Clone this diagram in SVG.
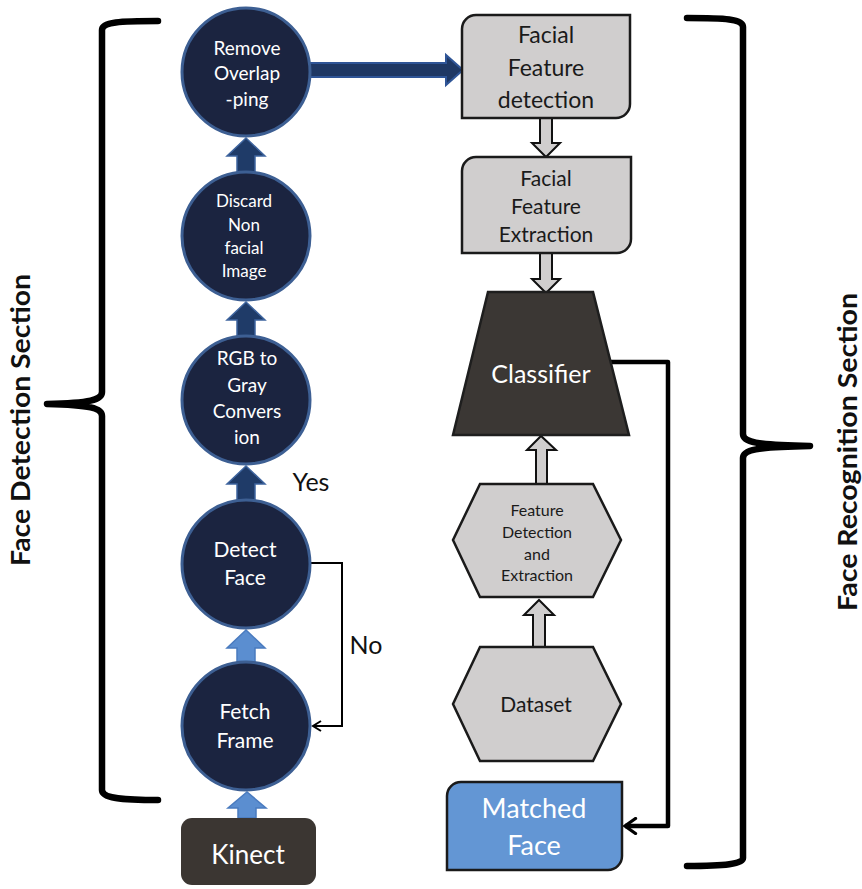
<svg xmlns="http://www.w3.org/2000/svg" width="862" height="889" viewBox="0 0 862 889">
  <defs>
    <style>
      text { font-family: Lato, "Noto Sans", "Liberation Sans", sans-serif; text-anchor: middle; }
      .circ { fill: #1b2440; stroke: #3d5f93; stroke-width: 3; }
      .ctxt { fill: #ffffff; font-size: 19px; }
      .ctxt-lg { fill: #ffffff; font-size: 21px; }
      .dark-arrow { fill: #1f3b68; stroke: #3e649e; stroke-width: 1.5; }
      .light-arrow { fill: #5b8ed0; stroke: #4a7bbf; stroke-width: 1.5; }
      .gray-box { fill: #d0cece; stroke: #1a1a1a; stroke-width: 2.5; }
      .gray-arrow { fill: #d0cece; stroke: #111111; stroke-width: 2; }
      .gtxt { fill: #1a1a1a; font-size: 23px; }
      .brace { fill: none; stroke: #000000; stroke-width: 6.5; stroke-linecap: round; stroke-linejoin: round; }
      .side { fill: #111111; font-size: 27px; font-weight: bold; }
      .label { fill: #111111; font-size: 25px; }
      .link { fill: none; stroke: #000000; }
    </style>
    <marker id="open-arrow" viewBox="0 0 12 12" refX="10" refY="6" markerWidth="12" markerHeight="12" markerUnits="userSpaceOnUse" orient="auto">
      <path d="M2,1 L10,6 L2,11" fill="none" stroke="#000" stroke-width="2"/>
    </marker>
    <marker id="open-arrow-bold" viewBox="0 0 12 12" refX="9" refY="6" markerWidth="18" markerHeight="18" markerUnits="userSpaceOnUse" orient="auto">
      <path d="M2,1 L9,6 L2,11" fill="none" stroke="#000" stroke-width="2.2" stroke-linecap="round"/>
    </marker>
  </defs>

  <rect width="862" height="889" fill="#ffffff"/>

  <!-- section braces and titles -->
  <g id="face-detection-section">
    <path class="brace" d="M158,21 C120,21 102,22 102,30 V392 C102,400 90,403 47,404 C90,405 102,408 102,416 V790 C102,798 120,800 158,800"/>
    <text class="side" transform="translate(30,420) rotate(-90)" textLength="292" lengthAdjust="spacingAndGlyphs">Face Detection  Section</text>
  </g>
  <g id="face-recognition-section">
    <path class="brace" d="M687,18 C725,18 743,19 743,27 V434 C743,442 755,445 810,446 C755,447 743,450 743,458 V858 C743,864 725,866 687,866"/>
    <text class="side" transform="translate(857,452) rotate(-90)" textLength="318" lengthAdjust="spacingAndGlyphs">Face Recognition Section</text>
  </g>

  <!-- connectors -->
  <g id="connectors">
    <!-- upward block arrows in the detection column -->
    <polygon class="dark-arrow" points="237,174 237,156 227,156 246,138 265,156 255,156 255,174"/>
    <polygon class="dark-arrow" points="237,338 237,320 227,320 246,302 265,320 255,320 255,338"/>
    <polygon class="dark-arrow" points="237,502 237,484 227,484 246,466 265,484 255,484 255,502"/>
    <polygon class="light-arrow" points="237,664 237,648 227,648 246,630 265,648 255,648 255,664"/>
    <polygon class="light-arrow" points="238,818 238,808 228,808 247,792 266,808 256,808 256,818"/>
    <!-- to facial feature detection -->
    <polygon points="309,63 446,63 446,55 463,70 446,85 446,77 309,77" fill="#1f3864" stroke="#2f5597" stroke-width="2"/>
    <!-- detect face "No" loop back to fetch frame -->
    <polyline class="link" stroke-width="2" points="310,563 342,563 342,726 313,726" marker-end="url(#open-arrow)"/>
    <!-- recognition column block arrows -->
    <polygon class="gray-arrow" points="540,118 540,143 532,143 546,157 560,143 552,143 552,118"/>
    <polygon class="gray-arrow" points="540,253 540,279 532,279 546,293 560,279 552,279 552,253"/>
    <polygon class="gray-arrow" points="536,484 536,450 527,450 541,436 556,450 547,450 547,484"/>
    <polygon class="gray-arrow" points="533,647 533,615 524,615 539,600 554,615 545,615 545,647"/>
    <!-- classifier result to matched face -->
    <polyline class="link" stroke-width="4.5" stroke-linejoin="round" points="610,362 668,362 668,826 625,826" marker-end="url(#open-arrow-bold)"/>
  </g>

  <!-- detection column -->
  <g id="remove-overlapping">
    <circle class="circ" cx="246" cy="72" r="64"/>
    <text class="ctxt" x="247" y="55">Remove</text>
    <text class="ctxt" x="247" y="80">Overlap</text>
    <text class="ctxt" x="247" y="106">-ping</text>
  </g>
  <g id="discard-non-facial">
    <circle class="circ" cx="246" cy="236" r="64"/>
    <text class="ctxt" x="244" y="207" style="font-size:17px">Discard</text>
    <text class="ctxt" x="244" y="231" style="font-size:17px">Non</text>
    <text class="ctxt" x="244" y="254" style="font-size:17px">facial</text>
    <text class="ctxt" x="244" y="277" style="font-size:17px">Image</text>
  </g>
  <g id="rgb-to-gray">
    <circle class="circ" cx="246" cy="400" r="64"/>
    <text class="ctxt" x="247" y="365">RGB to</text>
    <text class="ctxt" x="247" y="392">Gray</text>
    <text class="ctxt" x="247" y="418">Convers</text>
    <text class="ctxt" x="247" y="444">ion</text>
  </g>
  <g id="detect-face">
    <circle class="circ" cx="246" cy="564" r="64"/>
    <text class="ctxt-lg" x="245" y="557">Detect</text>
    <text class="ctxt-lg" x="245" y="585">Face</text>
  </g>
  <g id="fetch-frame">
    <circle class="circ" cx="246" cy="726" r="64"/>
    <text class="ctxt-lg" x="245" y="719">Fetch</text>
    <text class="ctxt-lg" x="245" y="748">Frame</text>
  </g>
  <g id="kinect">
    <rect x="181" y="818" width="135" height="67" rx="11" fill="#3b3632"/>
    <text x="248" y="864" fill="#ffffff" style="font-size:26px">Kinect</text>
  </g>
  <text class="label" x="311" y="491">Yes</text>
  <text class="label" x="366" y="654">No</text>

  <!-- recognition column -->
  <g id="facial-feature-detection">
    <path class="gray-box" d="M476,15 H630 V104 A14,14 0 0 1 616,118 H462 V29 A14,14 0 0 1 476,15 Z"/>
    <text class="gtxt" x="546" y="43">Facial</text>
    <text class="gtxt" x="546" y="76">Feature</text>
    <text class="gtxt" x="546" y="108">detection</text>
  </g>
  <g id="facial-feature-extraction">
    <path class="gray-box" d="M476,157 H631 V239 A14,14 0 0 1 617,253 H462 V171 A14,14 0 0 1 476,157 Z"/>
    <text class="gtxt" x="546" y="186" style="font-size:21px">Facial</text>
    <text class="gtxt" x="546" y="214" style="font-size:21px">Feature</text>
    <text class="gtxt" x="546" y="242" style="font-size:21px">Extraction</text>
  </g>
  <g id="classifier">
    <polygon points="488,292 593,292 629,435 453,435" fill="#3b3734" stroke="#1e1e1e" stroke-width="2.5"/>
    <text x="541" y="383" fill="#ffffff" style="font-size:25px">Classifier</text>
  </g>
  <g id="feature-detection-extraction">
    <polygon class="gray-box" points="480,484 593,484 621,540 593,597 480,597 453,540"/>
    <text class="gtxt" x="537" y="516" style="font-size:16px">Feature</text>
    <text class="gtxt" x="537" y="538" style="font-size:16px">Detection</text>
    <text class="gtxt" x="537" y="560" style="font-size:16px">and</text>
    <text class="gtxt" x="537" y="581" style="font-size:16px">Extraction</text>
  </g>
  <g id="dataset">
    <polygon class="gray-box" points="480,647 593,647 621,704 593,761 480,761 453,704"/>
    <text class="gtxt" x="536" y="712" style="font-size:21px">Dataset</text>
  </g>
  <g id="matched-face">
    <path d="M461,782 H622 V856 A14,14 0 0 1 608,870 H447 V796 A14,14 0 0 1 461,782 Z" fill="#6396d4" stroke="#1a1a1a" stroke-width="2.5"/>
    <text x="534" y="818" fill="#ffffff" style="font-size:27px">Matched</text>
    <text x="534" y="855" fill="#ffffff" style="font-size:27px">Face</text>
  </g>
</svg>
